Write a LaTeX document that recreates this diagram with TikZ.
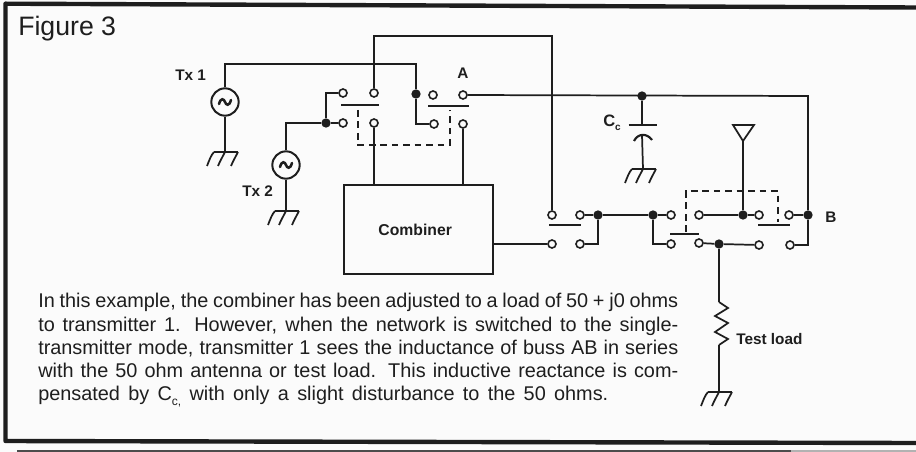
\documentclass[tikz,border=0pt]{standalone}
\usepackage{fontspec}
\setmainfont{Liberation Sans}
\definecolor{ink}{HTML}{1E1E1E}
\definecolor{paper}{HTML}{FBFBFB}
\tikzset{
  x=0.75pt,y=-0.75pt,
  wire/.style={draw=ink,line width=1.3pt},
  contact/.style={circle,draw=ink,fill=paper,line width=1.2pt,inner sep=0pt,minimum size=6pt},
  joint/.style={circle,fill=ink,inner sep=0pt,minimum size=7pt},
  source/.style={circle,draw=ink,fill=paper,line width=1.5pt,inner sep=0pt,minimum size=20.5pt},
  bar/.style={draw=ink,line width=1.3pt},
  gang/.style={draw=ink,line width=1.35pt,dash pattern=on 5pt off 3.6pt},
  lab/.style={text=ink,font=\fontsize{11.5pt}{13pt}\selectfont\bfseries,inner sep=0pt},
  pt/.style={inner sep=0pt,minimum size=0pt},
  bodyline/.style={inner sep=0pt,anchor=base west,text=ink,font=\fontsize{14.9pt}{17pt}\selectfont},
  gnd/.pic={
    \draw[wire] (-11,0) -- (13,0);
    \draw[wire] (-11,0) .. controls (-14,3) and (-16,9) .. (-18,14);
    \draw[wire] (0,0) .. controls (-2,4) and (-5,9) .. (-7,14);
    \draw[wire] (13,0) .. controls (11,4) and (8,9) .. (6,14);
  }
}
\newcommand{\srcwave}[1]{\draw[ink,line width=1.9pt,line cap=round] ([shift={(-6,2)}]#1.center) .. controls ([shift={(-4,-5)}]#1.center) and ([shift={(-1,-3)}]#1.center) .. (#1.center) .. controls ([shift={(1,3)}]#1.center) and ([shift={(4,5)}]#1.center) .. ([shift={(6,-2)}]#1.center);}
\newcommand{\fitline}[2]{\hbox to #1{\spaceskip=0.28em plus 1fil minus 0.1em\relax #2}}
\begin{document}
\begin{tikzpicture}
\useasboundingbox (0,0) rectangle (916,452);
\fill[paper] (0,0) rectangle (916,452);
\draw[ink,line width=3.3pt,line join=round] (916,7.5) -- (5.5,3.7) -- (5.5,441) -- (916,443);
\fill[black!70] (17,449.5) rectangle (791,452);
\fill[black!30] (791,450.3) rectangle (916,452);

% texts
\node[pt,anchor=base west,text=ink,font=\fontsize{20pt}{22pt}\selectfont] (title) at (18,36) {Figure 3};
\node[lab,anchor=base west] (tx1) at (175,81) {Tx 1};
\node[lab,anchor=base west] (tx2) at (242,197) {Tx 2};
\node[lab,anchor=base] (la) at (463,79) {A};
\node[lab,anchor=base west] (lb) at (825,223) {B};
\node[pt,anchor=base west,text=ink,font=\fontsize{12.4pt}{14pt}\selectfont\bfseries] (lc) at (603,127) {C\raisebox{-0.35ex}{\fontsize{7.5pt}{8pt}\selectfont c}};
\node[lab,anchor=base west] (lt) at (736,344) {Test load};
\node[bodyline] (l1) at (38,307.5) {\fitline{480pt}{In this example, the combiner has been adjusted to a load of 50 + j0 ohms}};
\node[bodyline] (l2) at (38,331) {\fitline{480pt}{to transmitter 1. However, when the network is switched to the single-}};
\node[bodyline] (l3) at (38,354.5) {\fitline{480pt}{transmitter mode, transmitter 1 sees the inductance of buss AB in series}};
\node[bodyline] (l4) at (38,377.5) {\fitline{480pt}{with the 50 ohm antenna or test load. This inductive reactance is com-}};
\node[bodyline] (l5) at (38,400.5) {\fitline{427.5pt}{pensated by C\raisebox{-0.5ex}{\fontsize{9pt}{10pt}\selectfont c,} with only a slight disturbance to the 50 ohms.}};

% combiner
\node[draw=ink,line width=1.3pt,fill=paper,minimum width=111.75pt,minimum height=66.75pt,inner sep=0pt,
      text=ink,font=\fontsize{11.8pt}{13pt}\selectfont\bfseries] (comb) at (418.5,229.5) {\hspace*{-5pt}Combiner};

% sources
\node[source] (s1) at (225,102) {};
\node[source] (s2) at (286,165) {};
\srcwave{s1}\srcwave{s2}
\coordinate (g1) at (225,152);
\coordinate (g2) at (286,211);
\coordinate (g3) at (643,169);
\coordinate (g4) at (719,392);
\coordinate (c1) at (374,36);
\coordinate (c2) at (552,36);
\coordinate (t1) at (225,64);
\coordinate (t2) at (416,64);
\coordinate (cm1) at (374,185);
\coordinate (cm2) at (463,185);
\coordinate (cmo) at (493,244);

% switch 1
\node[contact] (a1) at (343,93) {};
\node[contact] (a2) at (374,93) {};
\node[contact] (a3) at (343,123) {};
\node[contact] (a4) at (374,123) {};
% switch 2
\node[contact] (b1) at (433,95) {};
\node[contact] (b2) at (463,95) {};
\node[contact] (b3) at (434,124) {};
\node[contact] (b4) at (463,124) {};
% switch 3
\node[contact] (d1) at (552,215) {};
\node[contact] (d2) at (580,215) {};
\node[contact] (d3) at (552,244) {};
\node[contact] (d4) at (580,244) {};
% switch 4
\node[contact] (e1) at (671,215) {};
\node[contact] (e2) at (699,215) {};
\node[contact] (e3) at (671,244) {};
\node[contact] (e4) at (699,243) {};
% switch 5
\node[contact] (f1) at (759,215) {};
\node[contact] (f2) at (789,215) {};
\node[contact] (f3) at (759,245) {};
\node[contact] (f4) at (790,245) {};
% joints
\node[joint] (j1) at (416,94) {};
\node[joint] (j2) at (326,123) {};
\node[joint] (j3) at (642,96) {};
\node[joint] (j4) at (598,215) {};
\node[joint] (j5) at (653,215) {};
\node[joint] (j6) at (743,215) {};
\node[joint] (j7) at (808,215) {};
\node[joint] (j8) at (719,244) {};
\coordinate (bus) at (808,96);
\coordinate (ant) at (743,141);
\coordinate (capt) at (642,125);
\coordinate (capb) at (642,135);
\coordinate (rt) at (719,302);
\coordinate (rb) at (719,345);

% wiring
\draw[wire] (s1) -- (t1) -- (t2) -- (j1);
\draw[wire] (j1) |- (b3);
\draw[wire] (s1) -- (g1);
\draw[wire] (s2) |- (j2);
\draw[wire] (s2) -- (g2);
\draw[wire] (j2) -- (a3);
\draw[wire] (j2) |- (a1);
\draw[wire] (a2) -- (c1) -- (c2) -- (d1);
\draw[wire] (a4) -- (cm1);
\draw[wire] (b4) -- (cm2);
\draw[wire] (b2) -- (bus) -- (j7);
\draw[wire] (j7) |- (f4);
\draw[wire] (j3) -- (capt);
\draw[wire] (capb) -- (g3);
\draw[wire] (cmo) -- (d3);
\draw[wire] (d2) -- (j4);
\draw[wire] (j4) |- (d4);
\draw[wire] (j4) -- (j5) -- (e1);
\draw[wire] (j5) |- (e3);
\draw[wire] (e2) -- (j6) -- (f1);
\draw[wire] (j6) -- (ant);
\draw[wire] (f2) -- (j7);
\draw[wire] (e4) -- (j8) -- (f3);
\draw[wire] (j8) -- (rt);
\draw[wire] (rt) -- ++(9,6) -- ++(-13,8) -- ++(13,7) -- ++(-13,9) -- ++(13,7) -- (rb);
\draw[wire] (rb) -- (g4);
\pic at (g1) {gnd};
\pic at (g2) {gnd};
\pic at (g3) {gnd};
\pic at (g4) {gnd};

% capacitor
\draw[wire,line width=1.4pt] ([xshift=-10]capt) -- ([xshift=11]capt);
\draw[wire,line width=1.6pt] ([shift={(-8,6)}]capb) .. controls ([shift={(-4,-2)}]capb) and ([shift={(5,-2)}]capb) .. ([shift={(10,5)}]capb);

% antenna
\draw[wire,fill=paper] (ant) -- ++(-10,-16) -- ++(21,0) -- cycle;

% switch bars
\draw[bar] ([shift={(-2,12)}]a1.center) -- ([shift={(5,12)}]a2.center);
\draw[bar] ([shift={(-5,11)}]b1.center) -- ([shift={(6,11)}]b2.center);
\draw[bar] ([shift={(-3,10)}]d1.center) -- ([shift={(1,10)}]d2.center);
\draw[bar] ([shift={(-1,-10)}]e3.center) -- ([shift={(0,-9)}]e4.center);
\draw[bar] ([shift={(-1,10)}]f1.center) -- ([shift={(1,10)}]f2.center);

% gang links
\draw[gang] (358,110) -- (358,145) -- (450,145) -- (450,110);
\draw[gang] (686,232) -- (686,191) -- (778,191) -- (778,222);
\end{tikzpicture}
\end{document}
